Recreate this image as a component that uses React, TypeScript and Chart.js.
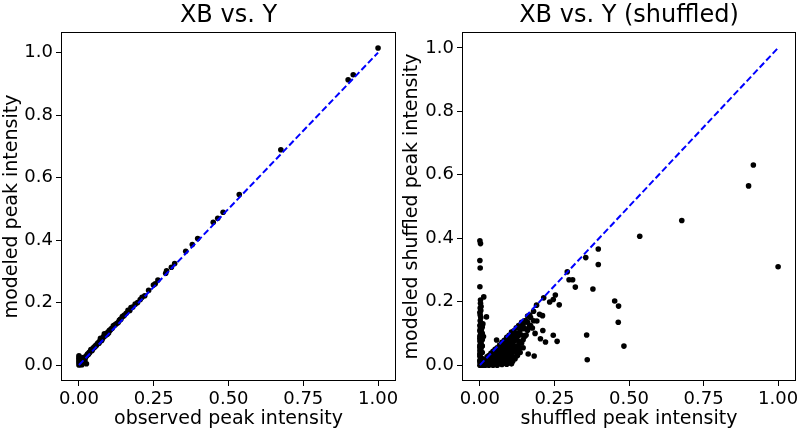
import React, { useEffect, useRef } from "react";
import { Chart, registerables } from "chart.js";
Chart.register(...registerables);

const FONT = "DejaVu Sans";

const xTickValues = [0, 0.25, 0.5, 0.75, 1];
const yTickValues = [0, 0.2, 0.4, 0.6, 0.8, 1];
const diagX = [0, 1];
const diagY = [0, 1];

// Left panel: observed vs modeled
const leftObserved = [
  1.0, 0.917, 0.9, 0.675, 0.536, 0.482, 0.464, 0.449, 0.397, 0.379, 0.357, 0.32, 0.309, 0.293, 0.264, 0.249,
  0.233, 0.211, 0.205, 0.188, 0.18, 0.174, 0.164, 0.158, 0.145, 0.14, 0.135, 0.126, 0.118, 0.115, 0.108, 0.102,
  0.097, 0.092, 0.088, 0.083, 0.078, 0.074, 0.069, 0.064, 0.06, 0.055, 0.05, 0.046, 0.042, 0.038, 0.034, 0.03,
  0.027, 0.024, 0.02, 0.017, 0.014, 0.011, 0.008, 0.006, 0.004, 0.002, 0.0, 0.0, 0.0, 0.0, 0.0, 0.001, 0.003,
  0.005, 0.008, 0.012, 0.016, 0.02, 0.01, 0.025, 0.085, 0.072, 0.04, 0.015,
  0.29, 0.255, 0.22, 0.196, 0.17, 0.152, 0.131, 0.122, 0.111, 0.094, 0.081, 0.067, 0.058, 0.044, 0.036, 0.022,
  0.013, 0.007, 0.018, 0.028, 0.032, 0.048, 0.053, 0.062, 0.076, 0.086, 0.099, 0.105, 0.138, 0.15,
];
const leftModeled = [
  1.015, 0.929, 0.913, 0.689, 0.546, 0.489, 0.47, 0.457, 0.405, 0.386, 0.364, 0.325, 0.313, 0.302, 0.272, 0.256,
  0.239, 0.217, 0.21, 0.195, 0.186, 0.184, 0.175, 0.166, 0.155, 0.147, 0.143, 0.133, 0.127, 0.126, 0.116, 0.111,
  0.106, 0.1, 0.095, 0.092, 0.084, 0.082, 0.076, 0.071, 0.066, 0.062, 0.057, 0.052, 0.048, 0.044, 0.04, 0.036,
  0.031, 0.028, 0.025, 0.022, 0.018, 0.015, 0.012, 0.009, 0.006, 0.004, 0.0, 0.008, 0.015, 0.022, 0.03, 0.026, 0.018,
  0.002, 0.004, 0.008, 0.012, 0.015, 0.001, 0.004, 0.1, 0.086, 0.05, 0.024,
  0.294, 0.26, 0.222, 0.2, 0.175, 0.16, 0.136, 0.13, 0.118, 0.098, 0.088, 0.07, 0.063, 0.047, 0.04, 0.024,
  0.016, 0.01, 0.02, 0.034, 0.035, 0.054, 0.058, 0.068, 0.079, 0.092, 0.103, 0.112, 0.146, 0.158,
];

// Right panel: scattered outliers
const rightOutShuffled = [
  0.917, 0.901, 0.677, 0.536, 1.0, 0.397, 0.355, 0.397, 0.293, 0.299, 0.311, 0.32, 0.379, 0.452, 0.465, 0.464,
  0.358, 0.483, 0.36, 0.253, 0.246, 0.234, 0.266, 0.214, 0.21, 0.191, 0.211, 0.246, 0.22, 0.259, 0.203, 0.182,
  0.162, 0.104, 0.134, 0.056, 0.176, 0.19, 0.167, 0.2, 0.185,
];
const rightOutModeled = [
  0.631, 0.565, 0.456, 0.406, 0.31, 0.366, 0.339, 0.317, 0.294, 0.269, 0.269, 0.246, 0.24, 0.202, 0.186, 0.135,
  0.095, 0.06, 0.017, 0.221, 0.207, 0.199, 0.19, 0.212, 0.156, 0.139, 0.109, 0.094, 0.073, 0.075, 0.083, 0.029,
  0.035, 0.007, 0.055, 0.079, 0.117, 0.189, 0.158, 0.16, 0.1,
];

// Right panel: spike of points near zero shuffled intensity
const rightSpikeShuffled = [
  0.0, 0.002, 0.0, 0.001, 0.0, 0.013, 0.002, 0.001, 0.0, 0.022, 0.003, 0.001, 0.004, 0.0, 0.002, 0.005, 0.001,
  0.003, 0.0, 0.006, 0.002, 0.0, 0.004, 0.001, 0.007, 0.0, 0.003, 0.0, 0.005, 0.001, 0.0, 0.004, 0.002, 0.0,
  0.006, 0.0, 0.01, 0.008, 0.008, 0.008, 0.008, 0.008, 0.008, 0.0, 0.0, 0.0, 0.0, 0.0, 0.002, 0.004, 0.003,
  0.001, 0.012, 0.01,
];
const rightSpikeModeled = [
  0.392, 0.383, 0.33, 0.306, 0.247, 0.215, 0.195, 0.18, 0.166, 0.152, 0.15, 0.14, 0.132, 0.125, 0.118, 0.112, 0.105,
  0.098, 0.092, 0.088, 0.082, 0.076, 0.07, 0.064, 0.06, 0.055, 0.05, 0.045, 0.04, 0.035, 0.028, 0.022, 0.016, 0.01,
  0.005, 0.0, 0.0, 0.02, 0.04, 0.06, 0.08, 0.1, 0.12, 0.015, 0.035, 0.06, 0.085, 0.11, 0.205, 0.185, 0.172,
  0.158, 0.09, 0.13,
];

// Right panel: dense wedge below the diagonal
const rightCoreShuffled = [
  0.005, 0.005, 0.005, 0.005, 0.012, 0.012, 0.012, 0.012, 0.018, 0.018, 0.018, 0.018,
  0.024, 0.024, 0.024, 0.024, 0.024, 0.03, 0.03, 0.03, 0.03, 0.03, 0.03,
  0.037, 0.037, 0.037, 0.037, 0.037, 0.037, 0.044, 0.044, 0.044, 0.044, 0.044, 0.044, 0.044,
  0.051, 0.051, 0.051, 0.051, 0.051, 0.051, 0.051, 0.058, 0.058, 0.058, 0.058, 0.058, 0.058, 0.058,
  0.066, 0.066, 0.066, 0.066, 0.066, 0.066, 0.066, 0.074, 0.074, 0.074, 0.074, 0.074, 0.074, 0.074, 0.074,
  0.082, 0.082, 0.082, 0.082, 0.082, 0.082, 0.082, 0.09, 0.09, 0.09, 0.09, 0.09, 0.09, 0.09, 0.09,
  0.098, 0.098, 0.098, 0.098, 0.098, 0.098, 0.098, 0.106, 0.106, 0.106, 0.106, 0.106, 0.106, 0.106, 0.106,
  0.114, 0.114, 0.114, 0.114, 0.114, 0.114, 0.122, 0.122, 0.122, 0.122, 0.122, 0.13, 0.13, 0.13, 0.13,
  0.14, 0.14, 0.14, 0.14, 0.15, 0.15, 0.15, 0.16, 0.16, 0.16, 0.17, 0.17, 0.18, 0.18,
  0.034, 0.041, 0.048, 0.055, 0.062, 0.07, 0.078, 0.086, 0.094, 0.102, 0.11, 0.118, 0.126, 0.135, 0.145,
  0.062, 0.07, 0.078, 0.086, 0.094, 0.102, 0.11, 0.118, 0.126, 0.135, 0.145, 0.155, 0.165,
  0.078, 0.086, 0.094, 0.102, 0.11, 0.118, 0.126, 0.135, 0.145, 0.155,
];
const rightCoreModeled = [
  0.0, 0.004, 0.008, 0.012, 0.002, 0.007, 0.012, 0.016, 0.0, 0.006, 0.012, 0.018,
  0.003, 0.009, 0.015, 0.021, 0.026, 0.0, 0.006, 0.012, 0.018, 0.024, 0.03,
  0.003, 0.01, 0.017, 0.024, 0.031, 0.037, 0.0, 0.007, 0.015, 0.022, 0.03, 0.038, 0.044,
  0.004, 0.012, 0.02, 0.028, 0.036, 0.044, 0.05, 0.0, 0.008, 0.017, 0.026, 0.035, 0.045, 0.055,
  0.005, 0.014, 0.024, 0.034, 0.044, 0.054, 0.063, 0.002, 0.012, 0.022, 0.033, 0.044, 0.055, 0.066, 0.072,
  0.006, 0.018, 0.03, 0.042, 0.054, 0.066, 0.078, 0.003, 0.015, 0.028, 0.04, 0.053, 0.066, 0.079, 0.088,
  0.01, 0.024, 0.038, 0.052, 0.066, 0.08, 0.094, 0.004, 0.02, 0.035, 0.05, 0.065, 0.08, 0.095, 0.104,
  0.025, 0.042, 0.058, 0.075, 0.092, 0.108, 0.04, 0.06, 0.08, 0.1, 0.118, 0.05, 0.075, 0.1, 0.125,
  0.07, 0.095, 0.12, 0.135, 0.09, 0.115, 0.14, 0.11, 0.135, 0.155, 0.125, 0.15, 0.14, 0.17,
  0.008, 0.014, 0.009, 0.016, 0.01, 0.017, 0.009, 0.014, 0.008, 0.015, 0.012, 0.02, 0.03, 0.04, 0.055,
  0.03, 0.038, 0.028, 0.036, 0.03, 0.04, 0.05, 0.045, 0.06, 0.07, 0.08, 0.095, 0.12,
  0.048, 0.06, 0.07, 0.075, 0.086, 0.088, 0.09, 0.11, 0.128, 0.14,
];

const rightShuffled = [...rightOutShuffled, ...rightSpikeShuffled, ...rightCoreShuffled];
const rightModeled = [...rightOutModeled, ...rightSpikeModeled, ...rightCoreModeled];

const framePlugin = {
  id: "frame",
  afterDraw(chart: any) {
    const { ctx, chartArea } = chart;
    const { left, top, right, bottom } = chartArea;
    ctx.save();
    ctx.strokeStyle = "#000";
    ctx.lineWidth = 1;
    ctx.strokeRect(left + 0.5, top + 0.5, right - left - 1, bottom - top - 1);
    ctx.restore();
  },
};

type PanelProps = {
  title: string;
  xLabel: string;
  yLabel: string;
  xs: number[];
  ys: number[];
  yMin: number;
  yMax: number;
  left: number;
  yAxisWidth: number;
  rightPad: number;
};

function Panel(props: PanelProps) {
  const ref = useRef<HTMLCanvasElement | null>(null);
  useEffect(() => {
    const canvas = ref.current;
    if (!canvas) return;
    const points = props.xs.map((x, i) => ({ x, y: props.ys[i] }));
    const diag = diagX.map((x, i) => ({ x, y: diagY[i] }));
    const chart = new Chart(canvas, {
      type: "scatter",
      data: {
        datasets: [
          {
            data: diag,
            showLine: true,
            borderColor: "#0000ff",
            borderWidth: 2,
            borderDash: [6.5, 3],
            pointRadius: 0,
            fill: false,
          } as any,
          {
            data: points,
            pointRadius: 2.8,
            pointBackgroundColor: "#000",
            pointBorderWidth: 0,
            showLine: false,
          } as any,
        ],
      },
      options: {
        animation: false,
        responsive: false,
        events: [],
        layout: { padding: { left: 0, right: props.rightPad, top: 0, bottom: 0 } },
        plugins: {
          legend: { display: false },
          tooltip: { enabled: false },
          title: {
            display: true,
            text: props.title,
            color: "#000",
            fullSize: false,
            font: { family: FONT, size: 24, weight: "normal" },
            padding: { top: 1.5, bottom: 1.7 },
          },
        },
        scales: {
          x: {
            type: "linear",
            min: -0.06,
            max: 1.06,
            afterBuildTicks: (s: any) => {
              s.ticks = xTickValues.map((v) => ({ value: v }));
            },
            afterFit: (s: any) => {
              s.height = 50;
              s.paddingLeft = 0;
              s.paddingRight = 0;
            },
            ticks: {
              callback: (v: any) => Number(v).toFixed(2),
              color: "#000",
              font: { family: FONT, size: 18 },
              padding: 3,
              maxRotation: 0,
              autoSkip: false,
            },
            grid: { drawOnChartArea: false, drawTicks: true, tickLength: 5, color: "#000" },
            border: { display: false },
            title: {
              display: true,
              text: props.xLabel,
              color: "#000",
              font: { family: FONT, size: 19 },
              padding: { top: 0, bottom: 1 },
            },
          },
          y: {
            type: "linear",
            min: props.yMin,
            max: props.yMax,
            afterBuildTicks: (s: any) => {
              s.ticks = yTickValues.map((v) => ({ value: v }));
            },
            afterFit: (s: any) => {
              s.width = props.yAxisWidth;
              s.paddingTop = 0;
              s.paddingBottom = 0;
            },
            ticks: {
              callback: (v: any) => Number(v).toFixed(1),
              color: "#000",
              font: { family: FONT, size: 18 },
              padding: 3,
              autoSkip: false,
            },
            grid: { drawOnChartArea: false, drawTicks: true, tickLength: 5, color: "#000" },
            border: { display: false },
            title: {
              display: true,
              text: props.yLabel,
              color: "#000",
              font: { family: FONT, size: 19 },
              padding: { top: 1, bottom: 0 },
            },
          },
        },
      },
      plugins: [framePlugin],
    } as any);
    return () => chart.destroy();
  }, []);
  return (
    <canvas
      ref={ref}
      width={400}
      height={431}
      style={{ position: "absolute", left: props.left, top: 0, width: 400, height: 431, display: "block" }}
    />
  );
}

export default function App() {
  return (
    <div style={{ position: "absolute", left: 0, top: 0, width: 800, height: 431, background: "#fff" }}>
      <Panel
        title="XB vs. Y"
        xLabel="observed peak intensity"
        yLabel="modeled peak intensity"
        xs={leftObserved}
        ys={leftModeled}
        yMin={-0.051}
        yMax={1.066}
        left={0}
        yAxisWidth={61}
        rightPad={4}
      />
      <Panel
        title="XB vs. Y (shuffled)"
        xLabel="shuffled peak intensity"
        yLabel="modeled shuffled peak intensity"
        xs={rightShuffled}
        ys={rightModeled}
        yMin={-0.05}
        yMax={1.05}
        left={400}
        yAxisWidth={62}
        rightPad={3}
      />
    </div>
  );
}
